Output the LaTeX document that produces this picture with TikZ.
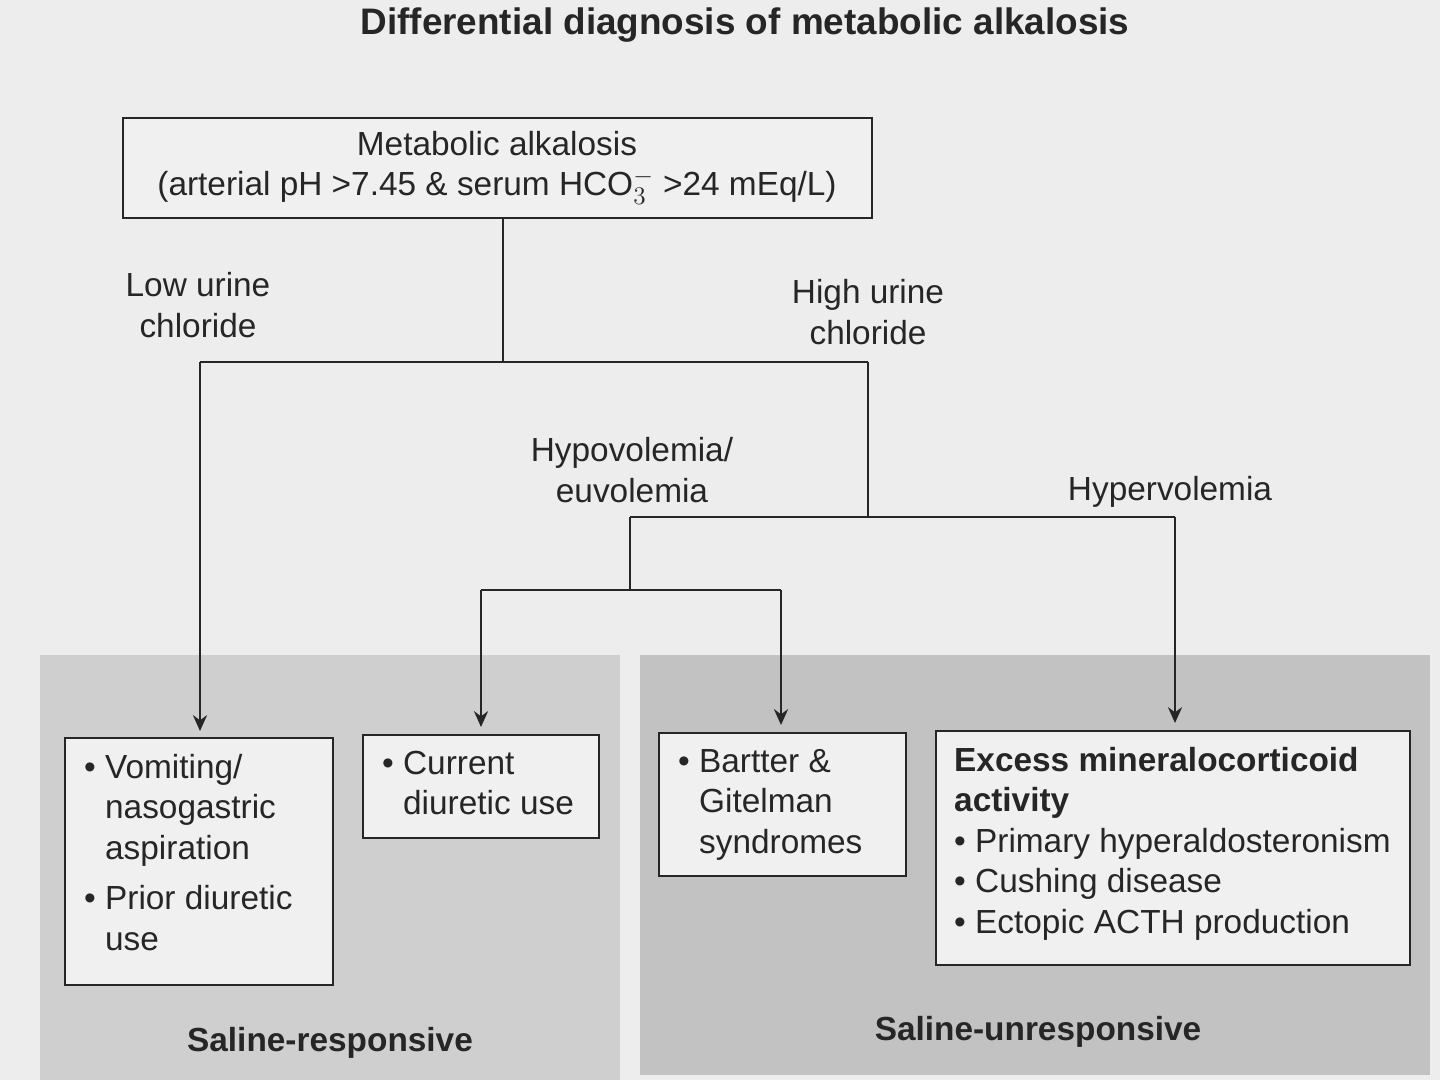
\documentclass[tikz,border=0pt]{standalone}
\usepackage{fontspec}
\setmainfont{Liberation Sans}
\usetikzlibrary{arrows.meta}
\begin{document}
\begin{tikzpicture}[x=0.02cm,y=-0.02cm,
  box/.style={draw=black!85,line width=1.4pt,fill=white!88!gray},
  txt/.style={font=\fontsize{19}{23}\selectfont,text=black!85},
  lab/.style={txt,align=center},
  ln/.style={line width=1.4pt,draw=black!85},
  ar/.style={ln,-{Stealth[length=9pt,width=8pt]}}]
\useasboundingbox (0,0) rectangle (1440,1080);
\fill[gray!14] (0,0) rectangle (1440,1080);
\fill[gray!38] (40,655) rectangle (620,1080);
\fill[gray!48] (640,655) rectangle (1430,1075);
\node[txt,font=\fontsize{21}{25}\selectfont\bfseries] (title) at (745,25) {Differential diagnosis of metabolic alkalosis};
\draw[box] (123,118) rectangle (872,218);
\node[lab] (top) at (497,168) {Metabolic alkalosis\\(arterial pH >7.45 \& serum HCO$_3^-$ >24 mEq/L)};
\coordinate (topb) at (503,218);
\draw[box] (65,738) rectangle (333,985);
\node[txt,align=left,anchor=north west] (vom) at (78,748) {• Vomiting/\\\phantom{• }nasogastric\\\phantom{• }aspiration\\[0.3em]• Prior diuretic\\\phantom{• }use};
\draw[box] (363,735) rectangle (599,838);
\node[txt,align=left,anchor=north west] (cur) at (376,745) {• Current\\\phantom{• }diuretic use};
\draw[box] (659,733) rectangle (906,876);
\node[txt,align=left,anchor=north west] (bar) at (672,743) {• Bartter \&\\\phantom{• }Gitelman\\\phantom{• }syndromes};
\draw[box] (936,731) rectangle (1410,965);
\node[txt,align=left,anchor=north west] (exc) at (948,741) {\textbf{Excess mineralocorticoid}\\\textbf{activity}\\• Primary hyperaldosteronism\\• Cushing disease\\• Ectopic ACTH production};
\coordinate (j1) at (503,362);
\coordinate (l1) at (200,362);
\coordinate (r1) at (868,362);
\coordinate (j2) at (868,517);
\coordinate (l2) at (630,517);
\coordinate (r2) at (1175,517);
\coordinate (j3) at (630,590);
\coordinate (l3) at (481,590);
\coordinate (r3) at (781,590);
\coordinate (vomt) at (200,731);
\coordinate (curt) at (481,727);
\coordinate (bart) at (781,725);
\coordinate (exct) at (1175,723);
\draw[ln] (topb) -- (j1);
\draw[ln] (l1) -- (r1);
\draw[ar] (l1) -- (vomt);
\draw[ln] (r1) -- (j2);
\draw[ln] (l2) -- (r2);
\draw[ar] (r2) -- (exct);
\draw[ln] (l2) -- (j3);
\draw[ln] (l3) -- (r3);
\draw[ar] (l3) -- (curt);
\draw[ar] (r3) -- (bart);
\node[lab] (low) at (198,305) {Low urine\\chloride};
\node[lab] (high) at (868,312) {High urine\\chloride};
\node[lab] (hypo) at (632,470) {Hypovolemia/\\euvolemia};
\node[lab] (hyper) at (1170,492) {Hypervolemia};
\node[txt,font=\fontsize{19}{23}\selectfont\bfseries] (sr) at (330,1043) {Saline-responsive};
\node[txt,font=\fontsize{19}{23}\selectfont\bfseries] (su) at (1038,1032) {Saline-unresponsive};
\end{tikzpicture}
\end{document}
